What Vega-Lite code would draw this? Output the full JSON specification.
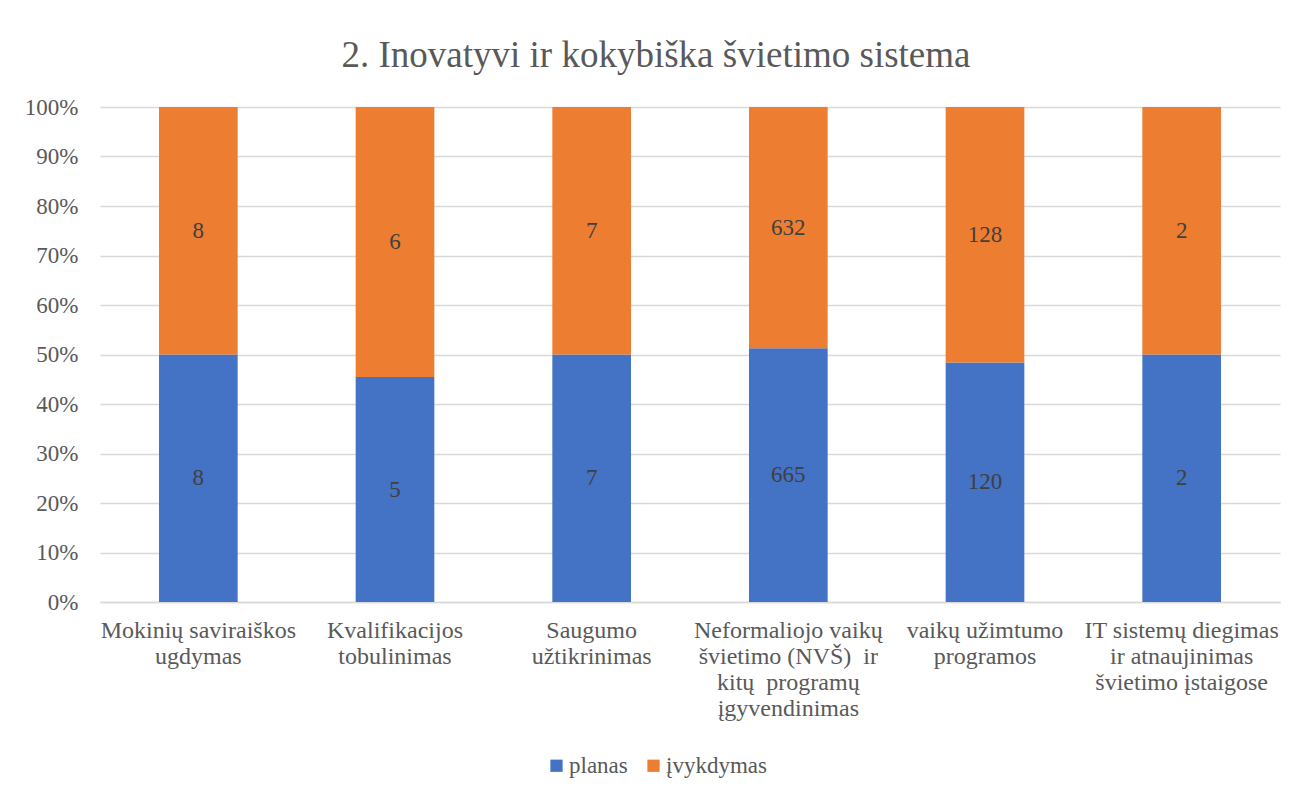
{
  "$schema": "https://vega.github.io/schema/vega-lite/v6.json",
  "width": 1180,
  "height": 495,
  "autosize": {"type": "none"},
  "padding": {"left": 100, "top": 107, "right": 18, "bottom": 190},
  "background": "white",
  "title": {
    "text": "2. Inovatyvi ir kokybiška švietimo sistema",
    "font": "Liberation Serif",
    "fontSize": 37,
    "fontWeight": "normal",
    "color": "#595959",
    "anchor": "middle",
    "offset": 21,
    "dx": -34
  },
  "data": {
    "values": [
      {"kategorija": "Mokinių saviraiškos\nugdymas", "serija": "planas", "reiksme": 8},
      {"kategorija": "Mokinių saviraiškos\nugdymas", "serija": "įvykdymas", "reiksme": 8},
      {"kategorija": "Kvalifikacijos\ntobulinimas", "serija": "planas", "reiksme": 5},
      {"kategorija": "Kvalifikacijos\ntobulinimas", "serija": "įvykdymas", "reiksme": 6},
      {"kategorija": "Saugumo\nužtikrinimas", "serija": "planas", "reiksme": 7},
      {"kategorija": "Saugumo\nužtikrinimas", "serija": "įvykdymas", "reiksme": 7},
      {"kategorija": "Neformaliojo vaikų\nšvietimo (NVŠ) \u00a0ir\nkitų \u00a0programų\nįgyvendinimas", "serija": "planas", "reiksme": 665},
      {"kategorija": "Neformaliojo vaikų\nšvietimo (NVŠ) \u00a0ir\nkitų \u00a0programų\nįgyvendinimas", "serija": "įvykdymas", "reiksme": 632},
      {"kategorija": "vaikų užimtumo\nprogramos", "serija": "planas", "reiksme": 120},
      {"kategorija": "vaikų užimtumo\nprogramos", "serija": "įvykdymas", "reiksme": 128},
      {"kategorija": "IT sistemų diegimas\nir atnaujinimas\nšvietimo įstaigose", "serija": "planas", "reiksme": 2},
      {"kategorija": "IT sistemų diegimas\nir atnaujinimas\nšvietimo įstaigose", "serija": "įvykdymas", "reiksme": 2}
    ]
  },
  "transform": [
    {"stack": "reiksme", "groupby": ["kategorija"], "offset": "normalize", "sort": [{"field": "serija", "order": "ascending"}], "as": ["y0", "y1"]},
    {"calculate": "(datum.y0 + datum.y1) / 2", "as": "ymid"}
  ],
  "encoding": {
    "x": {
      "field": "kategorija",
      "type": "nominal",
      "sort": null,
      "title": null,
      "scale": {"paddingInner": 0.6, "paddingOuter": 0.3},
      "axis": {
        "labelExpr": "split(datum.label, '\\n')",
        "labelAngle": 0,
        "labelFont": "Liberation Serif",
        "labelFontSize": 24,
        "labelColor": "#595959",
        "labelLineHeight": 26,
        "labelPadding": 16,
        "labelLimit": 300,
        "ticks": false,
        "domainColor": "#d9d9d9",
        "domainWidth": 1.3,
        "grid": false
      }
    }
  },
  "layer": [
    {
      "mark": {"type": "bar"},
      "encoding": {
        "y": {
          "field": "y0",
          "type": "quantitative",
          "scale": {"domain": [0, 1]},
          "title": null,
          "axis": {
            "format": ".0%",
            "values": [0, 0.1, 0.2, 0.3, 0.4, 0.5, 0.6, 0.7, 0.8, 0.9, 1],
            "labelOverlap": false,
            "labelFont": "Liberation Serif",
            "labelFontSize": 23,
            "labelColor": "#595959",
            "labelPadding": 22,
            "ticks": false,
            "domain": false,
            "gridColor": "#d9d9d9",
            "gridWidth": 1.3
          }
        },
        "y2": {"field": "y1"},
        "color": {
          "field": "serija",
          "type": "nominal",
          "scale": {"domain": ["planas", "įvykdymas"], "range": ["#4472C4", "#ED7D31"]},
          "legend": {
            "title": null,
            "orient": "none",
            "direction": "horizontal",
            "legendX": 445,
            "legendY": 647,
            "symbolType": "square",
            "symbolSize": 150,
            "symbolStrokeWidth": 0,
            "symbolOpacity": 1,
            "labelFont": "Liberation Serif",
            "labelFontSize": 23,
            "labelColor": "#595959",
            "columnPadding": 14,
            "labelOffset": 1
          }
        }
      }
    },
    {
      "mark": {"type": "text", "font": "Liberation Serif", "fontSize": 23, "color": "#404040", "baseline": "middle"},
      "encoding": {
        "y": {
          "field": "ymid",
          "type": "quantitative",
          "title": null,
          "axis": {
            "format": ".0%",
            "values": [0, 0.1, 0.2, 0.3, 0.4, 0.5, 0.6, 0.7, 0.8, 0.9, 1],
            "labelOverlap": false,
            "labelFont": "Liberation Serif",
            "labelFontSize": 23,
            "labelColor": "#595959",
            "labelPadding": 22,
            "ticks": false,
            "domain": false,
            "gridColor": "#d9d9d9",
            "gridWidth": 1.3
          }
        },
        "text": {"field": "reiksme", "type": "quantitative"}
      }
    }
  ],
  "config": {"view": {"stroke": null}}
}
